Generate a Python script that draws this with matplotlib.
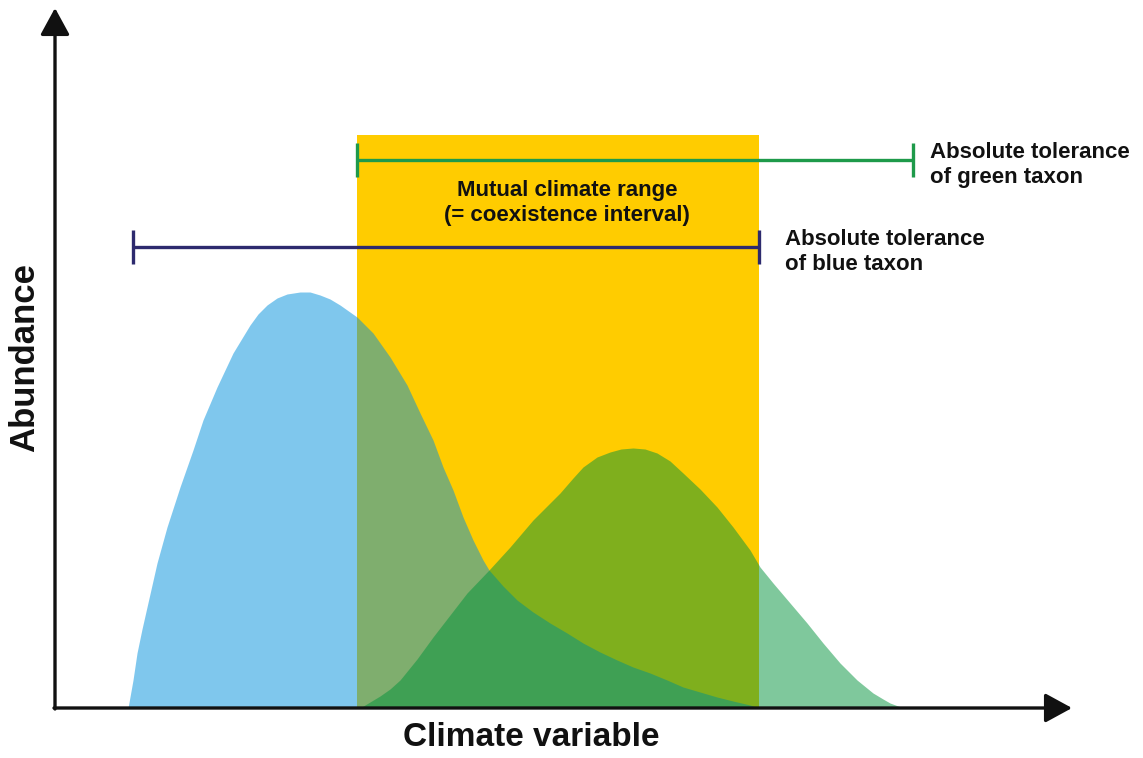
import matplotlib.pyplot as plt
import numpy as np

# Abundance curves (x = climate variable, y = abundance)
blue_x = [73, 78, 82, 87, 92, 102, 112, 125, 138, 148, 162, 178, 195, 203, 212, 222, 232,
          245, 255, 265, 275, 285, 302, 318, 335, 352, 365, 378, 388, 398, 408, 418, 428,
          434, 448, 462, 478, 495, 512, 528, 545, 562, 578, 595, 612, 628, 645, 662, 678,
          695, 704]
blue_y = [0, 28, 55, 79, 101, 145, 181, 221, 258, 288, 321, 355, 383, 394, 403, 410, 414,
          416, 416, 413, 409, 403, 391, 375, 351, 323, 295, 268, 241, 218, 191, 168, 148,
          138, 122, 108, 96, 85, 75, 65, 56, 48, 41, 35, 28, 21, 16, 11, 7, 3, 0]

green_x = [305, 315, 325, 335, 345, 362, 378, 395, 412, 434, 455, 478, 492, 505, 518, 528,
           542, 555, 566, 578, 590, 602, 615, 628, 645, 662, 678, 695, 705, 718, 735, 752,
           768, 785, 802, 818, 828, 835, 843, 850]
green_y = [0, 6, 12, 19, 28, 49, 71, 93, 115, 138, 161, 188, 202, 215, 230, 241, 251, 256,
           259, 260, 259, 255, 247, 235, 219, 201, 181, 158, 141, 125, 105, 85, 65, 45, 28,
           15, 9, 5, 2, 0]

# tolerance ranges (min, max, height of bar)
blue_range = [78, 704, 461]
green_range = [302, 858, 548]
mutual_range = [302, 704, 573]

axis_len = [1017, 700]

fig = plt.figure(figsize=(11.43, 7.58), dpi=100)
ax = fig.add_axes([0, 0, 1, 1])
ax.set_xlim(-55, 1088)
ax.set_ylim(-50, 708)
ax.axis('off')

# yellow coexistence interval
ax.fill_between(mutual_range[:2], 0, mutual_range[2], color='#FFCC00', lw=0, zorder=1)

# taxon curves
ax.fill_between(blue_x, 0, blue_y, color='#0191DD', alpha=0.5, lw=0, zorder=2)
ax.fill_between(green_x, 0, green_y, color='#01933B', alpha=0.5, lw=0, zorder=3)

# tolerance bars
for rng, col in [(blue_range, '#2D2A6E'), (green_range, '#1E9A4A')]:
    ax.plot(rng[:2], [rng[2], rng[2]], color=col, lw=2.4, zorder=4, solid_capstyle='butt')
    for xx in rng[:2]:
        ax.plot([xx, xx], [rng[2] - 17, rng[2] + 17], color=col, lw=2.4, zorder=4,
                solid_capstyle='butt')

# axes with arrows
arrow = dict(arrowstyle='-|>,head_length=0.55,head_width=0.3', lw=2.4, color='#111111',
             mutation_scale=30, shrinkA=0, shrinkB=0)
ax.annotate('', xy=(axis_len[0], 0), xytext=(-1, 0), arrowprops=arrow, zorder=5)
ax.annotate('', xy=(0, axis_len[1]), xytext=(0, -1), arrowprops=arrow, zorder=5)

label_font = ['Liberation Sans', 'DejaVu Sans']
ax.text(476, -30, 'Climate variable', fontsize=24, fontweight='bold', family=label_font,
        ha='center', va='center', color='#111111')
ax.text(-30, 351, 'Abundance', fontsize=25, fontweight='bold', family=label_font,
        ha='center', va='center', rotation=90, color='#111111')

txt_font = ['Liberation Sans', 'DejaVu Sans']
ax.text(512, 505, 'Mutual climate range\n(= coexistence interval)', fontsize=16,
        fontweight='bold', family=txt_font, ha='center', va='center', linespacing=1.25,
        color='#111111')
ax.text(875, 543, 'Absolute tolerance\nof green taxon', fontsize=16, fontweight='bold',
        family=txt_font, ha='left', va='center', linespacing=1.25, color='#111111')
ax.text(730, 456, 'Absolute tolerance\nof blue taxon', fontsize=16, fontweight='bold',
        family=txt_font, ha='left', va='center', linespacing=1.25, color='#111111')

fig.savefig('out.png', dpi=100)
